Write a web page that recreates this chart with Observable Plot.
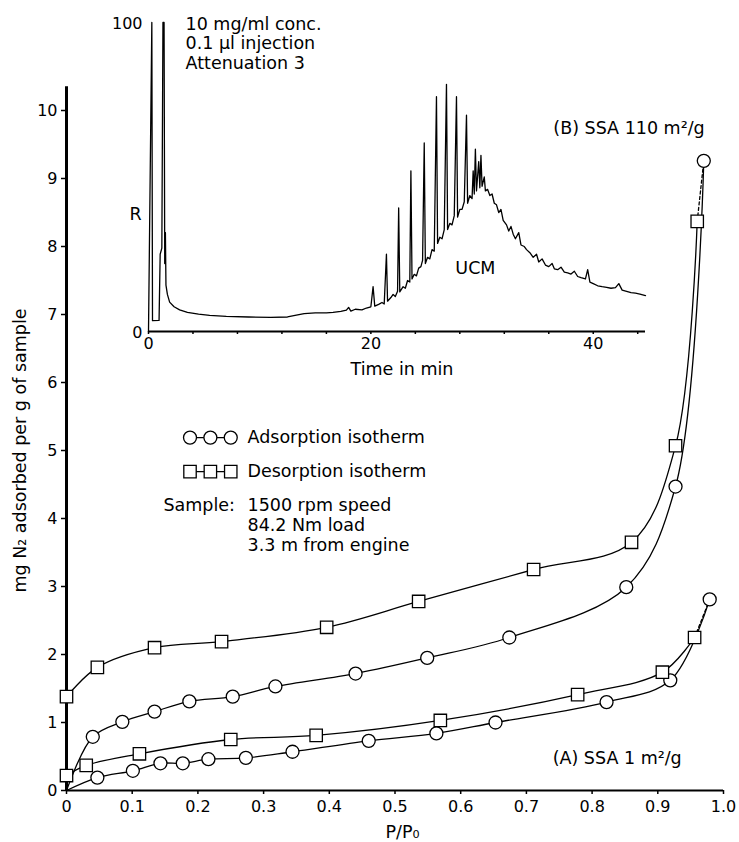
<!DOCTYPE html>
<html><head><meta charset="utf-8">
<script src="https://cdn.jsdelivr.net/npm/d3@7"></script>
<script src="https://cdn.jsdelivr.net/npm/@observablehq/plot@0.6"></script>
<style>
html,body{margin:0;padding:0;background:#fff;}
#wrap{position:relative;width:739px;height:842px;overflow:hidden;background:#fff;}
#wrap svg{position:absolute;left:0;top:0;}
</style></head><body><div id="wrap"></div>
<script>
// ---------- DATA ----------
// Main chart: N2 isotherms (x = P/P0, y = mg N2 adsorbed per g of sample)
const adsB_x = [0.040, 0.085, 0.134, 0.187, 0.253, 0.318, 0.440, 0.549, 0.674, 0.852, 0.927, 0.970];
const adsB_y = [0.79, 1.01, 1.16, 1.31, 1.38, 1.53, 1.72, 1.95, 2.25, 2.99, 4.47, 9.26];
const desB_x = [0, 0.047, 0.134, 0.236, 0.396, 0.536, 0.711, 0.860, 0.927, 0.960];
const desB_y = [1.38, 1.81, 2.10, 2.19, 2.40, 2.78, 3.25, 3.65, 5.07, 8.37];
const adsA_x = [0.047, 0.101, 0.143, 0.177, 0.216, 0.273, 0.344, 0.460, 0.563, 0.653, 0.822, 0.919, 0.979];
const adsA_y = [0.19, 0.29, 0.40, 0.40, 0.46, 0.48, 0.57, 0.73, 0.84, 1.00, 1.30, 1.62, 2.81];
const desA_x = [0, 0.030, 0.111, 0.250, 0.380, 0.569, 0.778, 0.907, 0.956];
const desA_y = [0.22, 0.37, 0.54, 0.75, 0.81, 1.03, 1.41, 1.74, 2.25];
const originPoint = {x: 0, y: 0};
const xTicks = [0, 0.1, 0.2, 0.3, 0.4, 0.5, 0.6, 0.7, 0.8, 0.9, 1.0];
const yTicks = [0, 1, 2, 3, 4, 5, 6, 7, 8, 9, 10];

// Inset: gas chromatogram (time in min, response)
const gcTime = [
 0, 0.3, 0.36, 0.95, 1.05, 1.2, 1.3, 1.4, 1.46, 1.52, 1.57, 1.7,
 1.9, 2.3, 2.8, 3.5, 4.5, 5.5, 7, 9, 11, 12.5, 13.3, 14,
 15, 16, 16.6, 17.3, 17.8, 18.0, 18.2, 18.6, 19.2, 19.6, 20.0, 20.2,
 20.35, 20.7, 21.0, 21.2, 21.4, 21.5, 21.8, 22.0, 22.2, 22.4, 22.5, 22.6,
 22.9, 23.1, 23.3, 23.5, 23.6, 23.7, 23.9, 24.1, 24.3, 24.5, 24.65, 24.8,
 24.9, 25.1, 25.3, 25.5, 25.7, 25.9, 26.0, 26.2, 26.4, 26.6, 26.8, 26.9,
 27.1, 27.3, 27.5, 27.7, 27.8, 28.0, 28.2, 28.4, 28.6, 28.7, 28.9, 29.1,
 29.2, 29.3, 29.4, 29.5, 29.7, 29.8, 29.9, 30.0, 30.2, 30.3, 30.5, 30.7,
 30.9, 31.1, 31.3, 31.5, 31.7, 31.9, 32.2, 32.4, 32.6, 32.8, 33.0, 33.3,
 33.5, 33.8, 34.0, 34.3, 34.6, 34.9, 35.1, 35.4, 35.7, 36.0, 36.3, 36.5,
 36.8, 37.1, 37.4, 37.7, 38.0, 38.3, 38.6, 38.9, 39.3, 39.5, 39.7, 40.0,
 40.4, 40.8, 41.2, 41.6, 42.0, 42.3, 42.6, 43.0, 43.4, 43.8, 44.2, 44.7
];
const gcSignal = [
 0, 100, 3.5, 3.6, 25, 27, 100, 100, 22, 32, 15, 12,
 9.5, 8, 7, 6.2, 5.6, 5.2, 4.9, 4.7, 4.6, 4.7, 5.3, 5.8,
 6, 6, 6.2, 6.5, 6.9, 7.8, 6.6, 7.2, 7.0, 7.6, 8.0, 14.5,
 8.2, 8.8, 9.4, 8.9, 25, 9.8, 11, 12, 11.3, 13, 40, 12.8,
 14.5, 14, 16.5, 16, 52, 17, 18.5, 18, 20.5, 21, 23, 61,
 22, 24, 23.5, 26.5, 26, 76, 28.5, 30.5, 30, 33, 80, 33,
 35, 34.5, 37.5, 76, 37, 39.5, 39.5, 42, 70, 41.5, 44, 43,
 52, 44.5, 59, 45.5, 55, 46.5, 57, 47, 50, 45.5, 46, 44,
 44.5, 41.5, 41, 38.5, 39.5, 36, 34.5, 32.5, 34, 31.5, 30, 32,
 28, 27.5, 26.5, 25.5, 24, 25, 22.5, 23.5, 21.5, 21, 22, 20.3,
 20, 20.8, 19.2, 19, 18.6, 19.5, 17.8, 17.4, 17, 20, 16, 15.5,
 14.8, 14.5, 14.3, 14, 14.2, 15.5, 13.4, 13, 12.6, 12.4, 12.1, 11.6
];
const gcTicks = [0, 4, 8, 12, 16, 20, 24, 28, 32, 36, 40, 44];
const gcTickLabels = [0, 20, 40];

// ---------- LAYOUT (annotation placement, in data units) ----------
const FONT = "DejaVu Sans";
const yTop = 10.35;
const legendXs = [0.188, 0.219, 0.250];
const legendRowAds = 5.19, legendRowDes = 4.69, legendTextX = 0.2755;
const mainNotes = [
  {text: "(B) SSA 110 m²/g", x: 0.741, y: 9.735},
  {text: "(A) SSA 1 m²/g", x: 0.740, y: 0.47},
  {text: "P/P₀", x: 0.4855, y: -0.62},
  {text: "Adsorption isotherm", x: legendTextX, y: legendRowAds},
  {text: "Desorption isotherm", x: legendTextX, y: legendRowDes},
  {text: "Sample:", x: 0.1476, y: 4.19},
  {text: "1500 rpm speed", x: legendTextX, y: 4.19},
  {text: "84.2 Nm load", x: legendTextX, y: 3.897},
  {text: "3.3 m from engine", x: legendTextX, y: 3.603}
];
const insetNotes = [
  {text: "10 mg/ml conc.", x: 3.33, y: 99.5, anchor: "start"},
  {text: "0.1 µl injection", x: 3.33, y: 93.1, anchor: "start"},
  {text: "Attenuation 3", x: 3.33, y: 86.7, anchor: "start"},
  {text: "R", x: -1.17, y: 37.9, anchor: "middle"},
  {text: "UCM", x: 29.4, y: 20.4, anchor: "middle"},
  {text: "Time in min", x: 22.8, y: -12.4, anchor: "middle"}
];

// ---------- BUILD ----------
const pts = (xs, ys) => xs.map((x, i) => ({x, y: ys[i]}));
const adsB = pts(adsB_x, adsB_y), desB = pts(desB_x, desB_y);
const adsA = pts(adsA_x, adsA_y), desA = pts(desA_x, desA_y);
const lineOpts = {x: "x", y: "y", curve: "catmull-rom", stroke: "black", strokeWidth: 1.3};
const dashOpts = {x: "x", y: "y", stroke: "black", strokeWidth: 1.3, strokeDasharray: "3,2.5"};
const circleOpts = {x: "x", y: "y", r: 6.5, symbol: "circle", fill: "white", stroke: "black", strokeWidth: 1.3};
const squareOpts = {x: "x", y: "y", r: 7, symbol: "square", fill: "white", stroke: "black", strokeWidth: 1.3};

const main = Plot.plot({
  width: 739, height: 842,
  marginLeft: 66, marginRight: 16, marginTop: 790 - yTop * 68, marginBottom: 52,
  style: {fontFamily: FONT, fontSize: "16px", background: "white", color: "black"},
  x: {domain: [0, 1]},
  y: {domain: [0, yTop]},
  marks: [
    Plot.line([originPoint, ...adsB], lineOpts),
    Plot.line(desB, lineOpts),
    Plot.line([originPoint, ...adsA], lineOpts),
    Plot.line(desA, lineOpts),
    Plot.line([desB[desB.length - 1], adsB[adsB.length - 1]], dashOpts),
    Plot.line([desA[desA.length - 1], adsA[adsA.length - 1]], dashOpts),
    Plot.ruleY([0], {x1: 0, x2: 1, stroke: "black", strokeWidth: 2.2}),
    Plot.ruleX([0], {y1: 0, y2: yTop, stroke: "black", strokeWidth: 3}),
    Plot.axisX({ticks: xTicks, tickFormat: d => d === 0 ? "0" : d.toFixed(1), tickSize: 4, tickPadding: 6, fontSize: 16, strokeWidth: 1.5, label: null}),
    Plot.axisY({ticks: yTicks, tickFormat: d => String(d), tickSize: 5, tickPadding: 4, fontSize: 16, strokeWidth: 1.5, label: null}),
    Plot.dot([...adsB, ...adsA], circleOpts),
    Plot.dot([...desB, ...desA], squareOpts),
    // legend
    Plot.line(legendXs.map(x => ({x, y: legendRowAds})), {x: "x", y: "y", stroke: "black", strokeWidth: 1.3}),
    Plot.line(legendXs.map(x => ({x, y: legendRowDes})), {x: "x", y: "y", stroke: "black", strokeWidth: 1.3}),
    Plot.dot(legendXs.map(x => ({x, y: legendRowAds})), circleOpts),
    Plot.dot(legendXs.map(x => ({x, y: legendRowDes})), squareOpts),
    Plot.text(mainNotes, {x: "x", y: "y", text: "text", textAnchor: "start", fontSize: 17.5, fill: "black"}),
    Plot.text(["mg N₂ adsorbed per g of sample"], {x: -0.070, y: 5.0, text: d => d, rotate: -90, textAnchor: "middle", fontSize: 17.5, fill: "black"})
  ]
});

const gc = gcTime.map((t, i) => ({t, v: gcSignal[i]}));
const inset = Plot.plot({
  width: 739, height: 842,
  marginLeft: 148, marginRight: 94, marginTop: 22, marginBottom: 511,
  style: {fontFamily: FONT, fontSize: "16px", background: "transparent", color: "black"},
  x: {domain: [0, 44.7]},
  y: {domain: [0, 100], axis: null},
  marks: [
    Plot.ruleY([0], {x1: 0, x2: 44.7, stroke: "black", strokeWidth: 2}),
    Plot.axisX({ticks: gcTicks, tickFormat: d => gcTickLabels.includes(d) ? String(d) : "", tickSize: 3, tickPadding: 3, fontSize: 16, strokeWidth: 1.5, label: null}),
    Plot.line(gc, {x: "t", y: "v", stroke: "black", strokeWidth: 1.3}),
    Plot.text(["100", "0"], {x: 0, y: d => +d, text: d => d, textAnchor: "end", dx: -6, dy: 1, fontSize: 16, fill: "black"}),
    ...insetNotes.map(n => Plot.text([n], {x: "x", y: "y", text: "text", textAnchor: n.anchor, fontSize: 17.5, fill: "black"}))
  ]
});

const wrap = document.getElementById("wrap");
wrap.appendChild(main);
wrap.appendChild(inset);
</script>
</body></html>
